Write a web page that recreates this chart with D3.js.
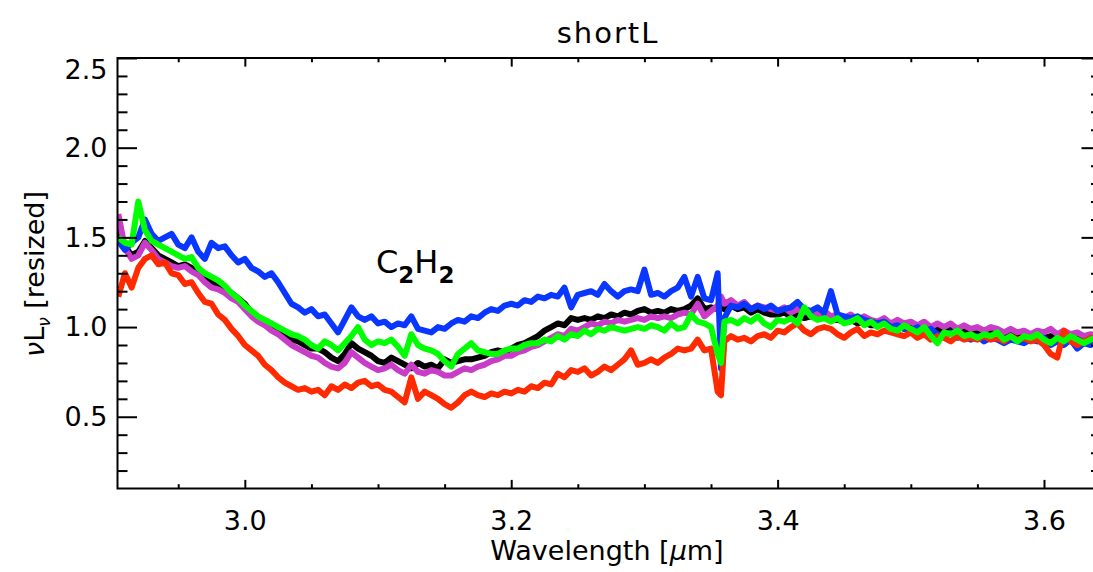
<!DOCTYPE html>
<html>
<head>
<meta charset="utf-8">
<script src="https://d3js.org/d3.v7.min.js"></script>
<style>
  body { margin: 0; background: #fff; }
  svg { display: block; }
  text { font-family: "DejaVu Sans", sans-serif; fill: #000; }
</style>
</head>
<body>
<script>
// Wavelength grid (micron), one extra sample near the 3.36 glitch
const wavelength = [
  2.905,2.910,2.915,2.920,2.925,2.930,2.935,2.940,2.945,2.950,
  2.955,2.960,2.965,2.970,2.975,2.980,2.985,2.990,2.995,3.000,
  3.005,3.010,3.015,3.020,3.025,3.030,3.035,3.040,3.045,3.050,
  3.055,3.060,3.065,3.070,3.075,3.080,3.085,3.090,3.095,3.100,
  3.105,3.110,3.115,3.120,3.125,3.130,3.135,3.140,3.145,3.150,
  3.155,3.160,3.165,3.170,3.175,3.180,3.185,3.190,3.195,3.200,
  3.205,3.210,3.215,3.220,3.225,3.230,3.235,3.240,3.245,3.250,
  3.255,3.260,3.265,3.270,3.275,3.280,3.285,3.290,3.295,3.300,
  3.305,3.310,3.315,3.320,3.325,3.330,3.335,3.340,3.345,3.350,
  3.355,3.3575,
  3.360,3.365,3.370,3.375,3.380,3.385,3.390,3.395,3.400,3.405,
  3.410,3.415,3.420,3.425,3.430,3.435,3.440,3.445,3.450,3.455,
  3.460,3.465,3.470,3.475,3.480,3.485,3.490,3.495,3.500,3.505,
  3.510,3.515,3.520,3.525,3.530,3.535,3.540,3.545,3.550,3.555,
  3.560,3.565,3.570,3.575,3.580,3.585,3.590,3.595,3.600,3.605,
  3.610,3.615,3.620,3.625,3.630,3.635,3.640
];

const blackSpec = [
  1.55,1.45,1.40,1.42,1.48,1.44,1.40,1.38,1.36,1.34,
  1.35,1.33,1.30,1.27,1.25,1.24,1.22,1.19,1.16,1.13,
  1.08,1.05,1.03,1.00,0.98,0.96,0.93,0.92,0.90,0.88,
  0.88,0.86,0.83,0.81,0.85,0.91,0.88,0.86,0.84,0.81,
  0.80,0.83,0.81,0.79,0.77,0.80,0.78,0.79,0.77,0.82,
  0.80,0.81,0.82,0.82,0.83,0.84,0.86,0.87,0.86,0.88,
  0.90,0.91,0.93,0.95,0.98,1.00,1.02,1.01,1.05,1.04,
  1.05,1.04,1.06,1.05,1.07,1.06,1.08,1.07,1.09,1.10,
  1.08,1.09,1.08,1.10,1.09,1.10,1.12,1.16,1.10,1.11,
  1.10,1.12,
  1.10,1.12,1.10,1.11,1.08,1.10,1.08,1.07,1.07,1.08,
  1.06,1.07,1.05,1.06,1.05,1.06,1.04,1.04,1.03,1.04,
  1.02,1.03,1.01,1.01,1.02,1.00,1.01,0.99,1.00,0.99,
  1.00,0.98,0.99,0.98,0.99,0.97,0.98,0.97,0.98,0.96,
  0.97,0.96,0.95,0.96,0.95,0.96,0.94,0.95,0.94,0.95,
  0.93,0.95,0.94,0.94,0.93,0.94,0.93
];

const magentaSpec = [
  1.63,1.44,1.38,1.40,1.47,1.43,1.38,1.36,1.34,1.33,
  1.34,1.31,1.29,1.25,1.22,1.21,1.19,1.16,1.14,1.10,
  1.06,1.03,1.01,0.98,0.96,0.93,0.90,0.88,0.86,0.84,
  0.83,0.80,0.78,0.77,0.80,0.86,0.83,0.80,0.78,0.76,
  0.77,0.79,0.76,0.74,0.79,0.75,0.74,0.76,0.75,0.73,
  0.73,0.75,0.77,0.76,0.78,0.79,0.81,0.82,0.84,0.84,
  0.86,0.87,0.89,0.90,0.92,0.94,0.96,0.95,0.99,0.98,
  1.00,1.02,1.01,1.03,1.02,1.04,1.03,1.04,1.05,1.04,
  1.06,1.05,1.06,1.05,1.07,1.08,1.07,1.13,1.06,1.09,
  1.12,1.17,
  1.13,1.15,1.12,1.14,1.10,1.12,1.11,1.10,1.09,1.11,
  1.08,1.10,1.08,1.09,1.07,1.09,1.06,1.07,1.05,1.07,
  1.04,1.06,1.04,1.03,1.05,1.02,1.04,1.02,1.03,1.01,
  1.03,1.00,1.02,1.00,1.02,0.99,1.01,0.99,1.00,0.98,
  1.00,0.99,0.97,0.99,0.97,0.98,0.96,0.98,0.97,0.99,
  0.96,0.98,0.96,0.97,0.95,0.96,0.95
];

const blueSpec = [
  1.48,1.43,1.47,1.50,1.60,1.52,1.48,1.50,1.52,1.46,
  1.44,1.50,1.42,1.38,1.47,1.44,1.45,1.40,1.36,1.38,
  1.33,1.31,1.28,1.30,1.25,1.19,1.13,1.11,1.08,1.10,
  1.06,1.07,1.02,0.97,1.04,1.11,1.06,1.04,1.06,1.02,
  1.03,1.00,1.02,1.01,1.06,0.99,0.98,0.97,1.00,0.99,
  1.02,1.04,1.03,1.06,1.05,1.08,1.10,1.09,1.12,1.13,
  1.12,1.15,1.14,1.17,1.16,1.18,1.17,1.22,1.11,1.18,
  1.19,1.20,1.18,1.24,1.20,1.17,1.20,1.21,1.20,1.32,
  1.18,1.19,1.17,1.20,1.22,1.28,1.17,1.28,1.16,1.15,
  1.30,0.77,
  1.05,1.12,1.11,1.13,1.10,1.12,1.10,1.12,1.09,1.10,
  1.11,1.14,1.10,1.09,1.11,1.08,1.20,1.07,1.06,1.05,
  1.06,1.04,1.03,1.02,1.03,1.00,1.01,0.99,0.98,1.00,
  0.97,0.99,0.96,0.95,0.97,0.94,0.95,0.93,0.95,0.92,
  0.94,0.93,0.91,0.93,0.92,0.91,0.93,0.92,0.94,0.90,
  0.92,0.90,0.93,0.88,0.91,0.90,0.92
];

const redSpec = [
  1.17,1.30,1.22,1.33,1.38,1.40,1.35,1.36,1.30,1.29,
  1.24,1.25,1.19,1.14,1.13,1.07,1.04,0.99,0.95,0.90,
  0.87,0.84,0.79,0.76,0.72,0.69,0.67,0.65,0.66,0.64,
  0.65,0.62,0.67,0.65,0.68,0.66,0.69,0.70,0.67,0.68,
  0.65,0.64,0.61,0.58,0.72,0.60,0.64,0.62,0.60,0.57,
  0.55,0.58,0.62,0.64,0.62,0.61,0.63,0.62,0.64,0.63,
  0.65,0.64,0.67,0.66,0.69,0.68,0.74,0.72,0.76,0.75,
  0.77,0.73,0.75,0.78,0.76,0.79,0.82,0.87,0.79,0.80,
  0.82,0.80,0.83,0.85,0.88,0.87,0.88,0.93,0.87,0.88,
  0.64,0.62,
  0.92,0.95,0.93,0.94,0.92,0.95,0.96,0.94,0.98,0.97,
  1.00,1.02,0.98,0.96,0.99,1.00,0.99,0.96,0.94,0.97,
  0.99,0.95,0.97,0.96,0.98,0.97,0.96,0.95,0.97,0.94,
  0.96,0.93,0.95,0.94,0.92,0.95,0.93,0.94,0.93,0.95,
  0.93,0.94,0.92,0.95,0.93,0.94,0.92,0.93,0.90,0.85,
  0.83,0.98,0.92,0.90,0.92,0.94,0.93
];

const greenSpec = [
  1.50,1.47,1.46,1.70,1.54,1.48,1.46,1.44,1.42,1.40,
  1.38,1.39,1.33,1.30,1.28,1.26,1.23,1.19,1.16,1.12,
  1.09,1.06,1.04,1.02,1.00,0.98,0.96,0.95,0.93,0.90,
  0.88,0.92,0.90,0.87,0.91,0.95,1.00,0.93,0.90,0.92,
  0.91,0.93,0.89,0.84,0.96,0.90,0.88,0.87,0.85,0.81,
  0.78,0.85,0.88,0.91,0.87,0.86,0.85,0.85,0.87,0.88,
  0.88,0.90,0.91,0.91,0.93,0.92,0.95,0.93,0.96,0.95,
  0.98,0.96,0.99,0.98,1.00,0.99,0.98,0.99,1.00,0.99,
  1.01,1.00,0.98,1.02,0.99,1.00,1.07,1.03,1.02,1.00,
  0.85,0.80,
  1.03,1.04,1.02,1.05,1.03,1.06,1.02,1.00,1.04,1.03,
  1.05,1.02,1.11,1.06,1.04,1.05,1.03,1.05,1.02,1.03,
  1.05,1.01,1.03,1.00,1.02,0.99,0.98,1.01,0.99,0.97,
  1.00,0.95,0.91,0.97,0.96,0.98,0.95,0.96,0.94,0.96,
  0.95,0.97,0.93,0.95,0.92,0.95,0.94,0.96,0.93,0.91,
  0.94,0.92,0.95,0.93,0.91,0.93,0.94
];

const seriesNames = ['black', 'magenta', 'blue', 'red', 'green'];
const seriesValues = [blackSpec, magentaSpec, blueSpec, redSpec, greenSpec];
const seriesColors = ['#000000', '#c83cc8', '#0a37ff', '#ff2a00', '#00ff00'];

const xMajorTicks = [3.0, 3.2, 3.4, 3.6];
const xMinorTicks = [2.95, 3.05, 3.10, 3.15, 3.25, 3.30, 3.35, 3.45, 3.50, 3.55];
const yMajorTicks = [0.5, 1.0, 1.5, 2.0, 2.5];
const yMinorTicks = [0.2, 0.3, 0.4, 0.6, 0.7, 0.8, 0.9, 1.1, 1.2, 1.3, 1.4,
                     1.6, 1.7, 1.8, 1.9, 2.1, 2.2, 2.3, 2.4];

// Layout
const W = 1093, H = 572;
const plotL = 117.5, plotR = 1101, plotT = 58, plotB = 488.5;

const svg = d3.select('body').append('svg')
  .attr('width', W)
  .attr('height', H);

const xScale = d3.scaleLinear().domain([2.9044, 3.6428]).range([plotL, plotR]);
const yScale = d3.scaleLinear().domain([0.1, 2.5]).range([plotB, plotT]);

// Clip for the spectra
svg.append('clipPath').attr('id', 'plotClip')
  .append('rect')
  .attr('x', plotL).attr('y', plotT)
  .attr('width', plotR - plotL).attr('height', plotB - plotT);

const line = d3.line()
  .x((d, i) => xScale(wavelength[i]))
  .y(d => yScale(d));

const lines = svg.append('g').attr('clip-path', 'url(#plotClip)');
seriesValues.forEach((vals, k) => {
  lines.append('path')
    .datum(vals)
    .attr('class', 'spec ' + seriesNames[k])
    .attr('fill', 'none')
    .attr('stroke', seriesColors[k])
    .attr('stroke-width', 6)
    .attr('stroke-linejoin', 'round')
    .attr('d', line);
});

// Axes (ticks point inward, IDL style)
const xMajLen = 8.6, xMinLen = 4.3, yMajLen = 19.5, yMinLen = 10;

function styleAxis(g) {
  g.select('.domain').remove();
  g.selectAll('.tick line').attr('stroke', '#000').attr('stroke-width', 2);
  g.selectAll('text')
    .style('font-family', '"DejaVu Sans", sans-serif')
    .style('font-size', '27px')
    .attr('fill', '#000');
}

svg.append('g')
  .attr('transform', `translate(0,${plotB})`)
  .call(d3.axisBottom(xScale).tickValues(xMajorTicks).tickSize(-xMajLen)
    .tickPadding(22).tickFormat(d3.format('.1f')))
  .call(styleAxis);

svg.append('g')
  .attr('transform', `translate(0,${plotB})`)
  .call(d3.axisBottom(xScale).tickValues(xMinorTicks).tickSize(-xMinLen).tickFormat(''))
  .call(styleAxis);

svg.append('g')
  .attr('transform', `translate(0,${plotT})`)
  .call(d3.axisTop(xScale).tickValues(xMajorTicks).tickSize(-xMajLen).tickFormat(''))
  .call(styleAxis);

svg.append('g')
  .attr('transform', `translate(0,${plotT})`)
  .call(d3.axisTop(xScale).tickValues(xMinorTicks).tickSize(-xMinLen).tickFormat(''))
  .call(styleAxis);

const yAxisG = svg.append('g')
  .attr('transform', `translate(${plotL},0)`)
  .call(d3.axisLeft(yScale).tickValues(yMajorTicks).tickSize(-yMajLen)
    .tickPadding(10).tickFormat(d3.format('.1f')))
  .call(styleAxis);

// IDL nudges the top label inside the frame
yAxisG.selectAll('.tick').filter(d => d === 2.5).select('text').attr('dy', '0.75em');

svg.append('g')
  .attr('transform', `translate(${plotL},0)`)
  .call(d3.axisLeft(yScale).tickValues(yMinorTicks).tickSize(-yMinLen).tickFormat(''))
  .call(styleAxis);

svg.append('g')
  .attr('transform', `translate(${plotR},0)`)
  .call(d3.axisRight(yScale).tickValues(yMajorTicks).tickSize(-yMajLen).tickFormat(''))
  .call(styleAxis);

svg.append('g')
  .attr('transform', `translate(${plotR},0)`)
  .call(d3.axisRight(yScale).tickValues(yMinorTicks).tickSize(-yMinLen).tickFormat(''))
  .call(styleAxis);

// Frame
svg.append('rect')
  .attr('x', plotL).attr('y', plotT)
  .attr('width', plotR - plotL).attr('height', plotB - plotT)
  .attr('fill', 'none')
  .attr('stroke', '#000')
  .attr('stroke-width', 2);

// Title
svg.append('text')
  .attr('x', 608)
  .attr('y', 43)
  .attr('text-anchor', 'middle')
  .style('font-size', '29px')
  .style('letter-spacing', '2px')
  .text('shortL');

// X label
const xLab = svg.append('text')
  .attr('x', 607)
  .attr('y', 560)
  .attr('text-anchor', 'middle')
  .style('font-size', '27px');
xLab.append('tspan').text('Wavelength [');
xLab.append('tspan').style('font-style', 'italic').text('μ');
xLab.append('tspan').text('m]');

// Y label
const yLab = svg.append('text')
  .attr('transform', 'translate(44,274) rotate(-90)')
  .attr('text-anchor', 'middle')
  .style('font-size', '27px');
yLab.append('tspan').style('font-style', 'italic').text('ν');
yLab.append('tspan').text('L');
yLab.append('tspan').attr('dy', 6).style('font-size', '17px').style('font-style', 'italic').text('ν');
yLab.append('tspan').attr('dy', -6).text('  [resized]');

// Molecule annotation
const ann = svg.append('text')
  .attr('x', 376)
  .attr('y', 273)
  .style('font-size', '32px');
ann.append('tspan').text('C');
ann.append('tspan').attr('dy', 10).style('font-size', '23px').style('font-weight', 'bold').text('2');
ann.append('tspan').attr('dy', -10).text('H');
ann.append('tspan').attr('dy', 10).style('font-size', '23px').style('font-weight', 'bold').text('2');
</script>
</body>
</html>
